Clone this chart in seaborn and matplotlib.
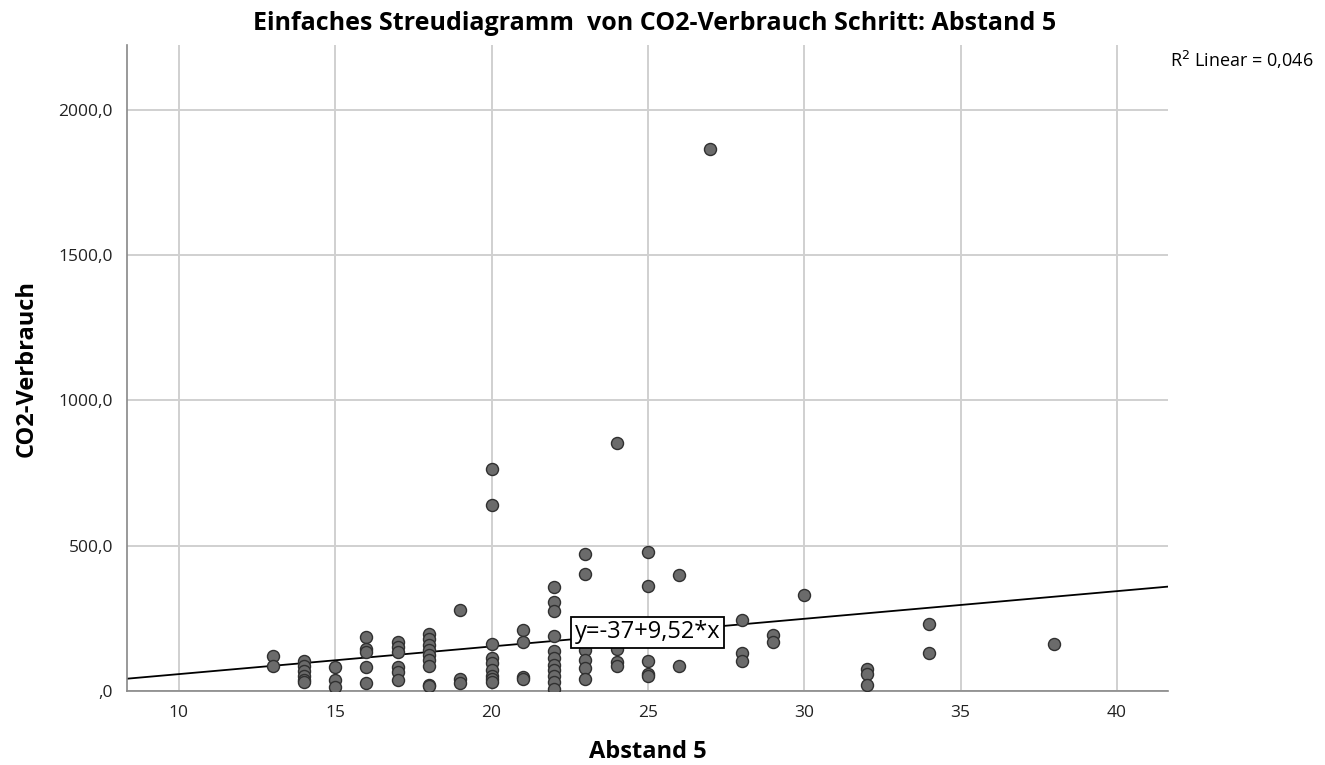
import numpy as np
import pandas as pd
import matplotlib
matplotlib.use("Agg")
import matplotlib.pyplot as plt
import seaborn as sns

# --- data ---
abstand = (
    [13] * 2 + [14] * 6 + [15] * 3 + [16] * 5 + [17] * 6 + [18] * 9 + [19] * 3
    + [20] * 9 + [21] * 4 + [22] * 11 + [23] * 7 + [24] * 4 + [25] * 5 + [26] * 2
    + [27] + [28] * 3 + [29] * 2 + [30] + [32] * 3 + [34] * 2 + [38]
)
co2 = [
    121, 86,
    105, 86, 68, 50, 38, 30,
    84, 38, 15,
    185, 143, 135, 84, 27,
    168, 152, 135, 84, 64, 38,
    197, 180, 158, 141, 124, 107, 86, 22, 16,
    279, 42, 28,
    763, 640, 163, 113, 95, 72, 52, 40, 30,
    210, 168, 47, 40,
    357, 307, 276, 190, 138, 112, 90, 72, 52, 30, 8,
    470, 404, 160, 141, 107, 80, 40,
    853, 143, 100, 87,
    479, 361, 105, 60, 51,
    401, 86,
    1865,
    246, 131, 104,
    192, 170,
    330,
    75, 60, 22,
    231, 132,
    161,
]
fit_intercept = -37
fit_slope = 9.52
r2_text = "R$^2$ Linear = 0,046"
fit_label = "y=-37+9,52*x"

x_ticks = [10, 15, 20, 25, 30, 35, 40]
y_ticks = [0, 500, 1000, 1500, 2000]
y_tick_labels = [",0", "500,0", "1000,0", "1500,0", "2000,0"]

df = pd.DataFrame({"Abstand 5": abstand, "CO2-Verbrauch": co2})

sns.set_theme(style="whitegrid")
plt.rcParams["font.family"] = ["Open Sans", "DejaVu Sans"]
plt.rcParams["text.color"] = "black"
plt.rcParams["axes.labelcolor"] = "black"

fig = plt.figure(figsize=(13.25, 7.65), dpi=100)
ax = fig.add_axes([0.0958, 0.0967, 0.7857, 0.8443])

sns.scatterplot(data=df, x="Abstand 5", y="CO2-Verbrauch", ax=ax,
                s=75, color="#6b6b6b", edgecolor="#303030", linewidth=1.0,
                zorder=3)

ax.set_xlim(8.34, 41.63)
ax.set_ylim(0, 2223)

# regression line across the whole axis
xs = np.array(ax.get_xlim())
ax.plot(xs, fit_intercept + fit_slope * xs, color="black", linewidth=1.3, zorder=2)

ax.text(22.66, 203, fit_label, fontsize=17, va="center", ha="left", zorder=4,
        bbox=dict(boxstyle="square,pad=0.15", facecolor="white", edgecolor="black", linewidth=1.3))

ax.set_xticks(x_ticks)
ax.set_yticks(y_ticks)
ax.set_yticklabels(y_tick_labels)
ax.tick_params(axis="both", labelsize=12.5, colors="#222222", length=0, pad=10)

ax.grid(True, color="#d0d0d0", linewidth=1.4)
for side in ["top", "right"]:
    ax.spines[side].set_visible(False)
for side in ["left", "bottom"]:
    ax.spines[side].set_color("#888888")
    ax.spines[side].set_linewidth(1.2)

ax.set_xlabel("Abstand 5", fontsize=17, fontweight="bold", labelpad=14)
ax.set_ylabel("CO2-Verbrauch", fontsize=17, fontweight="bold", labelpad=14)

fig.suptitle("Einfaches Streudiagramm  von CO2-Verbrauch Schritt: Abstand 5",
             x=0.494, y=0.985, fontsize=18, fontweight="bold")
fig.text(0.883, 0.921, r2_text, fontsize=13, ha="left", va="center")

fig.savefig("out.png", dpi=100)
